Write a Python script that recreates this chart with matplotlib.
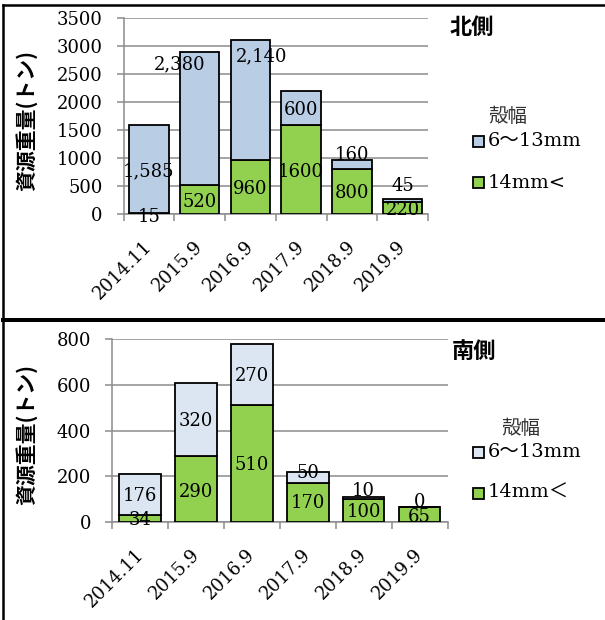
import numpy as np
import matplotlib.pyplot as plt
from matplotlib.lines import Line2D
from matplotlib.patches import Rectangle
from matplotlib.transforms import ScaledTranslation, blended_transform_factory

periods = ["2014.11", "2015.9", "2016.9", "2017.9", "2018.9", "2019.9"]

# 北側 資源重量 (トン)
north_large = [15, 520, 960, 1600, 800, 220]      # 14mm<
north_small = [1585, 2380, 2140, 600, 160, 45]    # 6～13mm
# 南側 資源重量 (トン)
south_large = [34, 290, 510, 170, 100, 65]
south_small = [176, 320, 270, 50, 10, 0]

# where the value labels sit (y in data units, x shift in category units)
north_large_lbl_y = [-54, 225, 445, 760, 374, 77]
north_small_lbl_y = [760, 2680, 2810, 1860, 1057, 505]
north_small_lbl_dx = [0, -0.4, 0.22, 0, 0, 0]
south_large_lbl_y = [10, 134, 250, 83, 46, 24]
south_small_lbl_y = [115, 442, 638, 217, 138, 90]
south_small_lbl_dx = [0, 0, 0, 0, 0, 0]

W, H = 605, 620
GREEN = "#92D050"
GRID = "#8C8C8C"
SERIF = ["DejaVu Serif", "Noto Sans CJK JP"]
CJK = ["Noto Sans CJK JP", "DejaVu Sans"]

fig = plt.figure(figsize=(W / 100, H / 100), dpi=100)


def fx(x):
    return x / W


def fy(y):
    return 1 - y / H


def panel(box, large, small, small_color, ymax, ystep, bar_w,
          large_y, small_y, small_dx, small_fmt, title, title_xy,
          legend_title_xy, legend_rows_y, large_name):
    x0, y0, x1, y1 = box
    ax = fig.add_axes([fx(x0), fy(y1), fx(x1 - x0), (y1 - y0) / H])
    x = np.arange(len(periods))
    ax.bar(x, large, bar_w, color=GREEN, edgecolor="black", linewidth=1.3, zorder=3)
    ax.bar(x, small, bar_w, bottom=large, color=small_color, edgecolor="black",
           linewidth=1.3, zorder=3)
    for i in range(len(periods)):
        ax.text(x[i], large_y[i], str(large[i]), ha="center", va="center",
                fontsize=13, family=SERIF, zorder=5)
        ax.text(x[i] + small_dx[i], small_y[i], small_fmt.format(small[i]),
                ha="center", va="center", fontsize=13, family=SERIF, zorder=5)

    ax.set_xlim(-0.5, len(periods) - 0.5)
    ax.set_ylim(0, ymax)
    ax.set_yticks(np.arange(0, ymax + 1, ystep))
    ax.set_yticklabels([str(v) for v in np.arange(0, ymax + 1, ystep)],
                       fontsize=13, family=SERIF)

    # category labels, slanted, ending just right of each bar centre
    ax.set_xticks(x)
    ax.set_xticklabels([])
    trans = blended_transform_factory(ax.transData, ax.transAxes) + \
        ScaledTranslation(0.07, -0.23, fig.dpi_scale_trans)
    for i, p in enumerate(periods):
        ax.text(x[i], 0, p, transform=trans, rotation=45, ha="right", va="top",
                fontsize=13, family=SERIF)
    ax.set_xticks(np.arange(-0.5, len(periods)), minor=True)
    ax.tick_params(axis="x", which="major", length=0)
    ax.tick_params(axis="x", which="minor", length=5, width=1.1, color=GRID)
    ax.tick_params(axis="y", length=5, width=1.1, color=GRID, pad=10)
    ax.yaxis.grid(True, color=GRID, linewidth=1.1, zorder=0)
    ax.set_axisbelow(True)
    for s in ["top", "right"]:
        ax.spines[s].set_visible(False)
    for s in ["left", "bottom"]:
        ax.spines[s].set_color(GRID)
        ax.spines[s].set_linewidth(1.1)

    fig.text(fx(title_xy[0]), fy(title_xy[1]), title, ha="center", va="center",
             fontsize=16, fontweight="bold", family=CJK)

    # legend
    fig.text(fx(legend_title_xy[0]), fy(legend_title_xy[1]), "殻幅", ha="center",
             va="center", fontsize=14, family=CJK, color="#333333")
    for col, name, yy in [(small_color, "6～13mm", legend_rows_y[0]),
                          (GREEN, large_name, legend_rows_y[1])]:
        fig.add_artist(Rectangle((fx(473), fy(yy + 5.5)), fx(11), 11 / H,
                                 facecolor=col, edgecolor="black", linewidth=1.3,
                                 transform=fig.transFigure))
        fig.text(fx(488), fy(yy), name, ha="left", va="center", fontsize=14,
                 family=SERIF)

    fig.text(fx(26), fy((y0 + y1) / 2 + 4), "資源重量(トン)", rotation=90,
             ha="center", va="center", fontsize=15, fontweight="bold", family=CJK)
    return ax


panel((123.5, 18, 428, 214.3), north_large, north_small, "#B9CDE5", 3500, 500, 0.78,
      north_large_lbl_y, north_small_lbl_y, north_small_lbl_dx, "{:,}",
      "北側", (472, 27.5), (508, 117), (141, 183), "14mm<")
panel((112, 339, 447.5, 522.3), south_large, south_small, "#DCE6F2", 800, 200, 0.745,
      south_large_lbl_y, south_small_lbl_y, south_small_lbl_dx, "{}",
      "南側", (473.6, 352), (521, 428), (452, 493), "14mm＜")

# frame lines around the two panels
for xs, ys, lw in [((3, W), (5, 5), 1.8), ((3.2, 3.2), (5, H), 1.8),
                   ((3, W), (319.5, 319.5), 2.9)]:
    fig.add_artist(Line2D([fx(v) for v in xs], [fy(v) for v in ys], color="black",
                          linewidth=lw, transform=fig.transFigure))

fig.savefig("out.png", dpi=100)
